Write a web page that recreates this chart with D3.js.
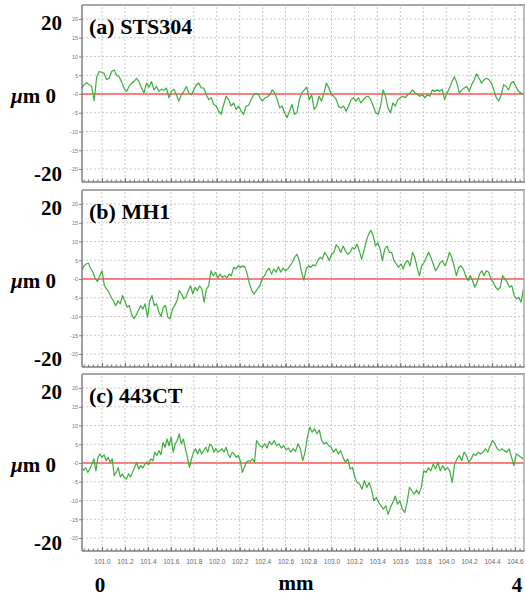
<!DOCTYPE html>
<html>
<head>
<meta charset="utf-8">
<script src="https://cdn.jsdelivr.net/npm/d3@7"></script>
<style>
body { margin: 0; background: #fff; }
svg { display: block; }
</style>
</head>
<body>
<div id="display"></div>
<script>
// profile traces, left half and right half of each panel
var stsLeft = [1.5,2.5,3,2.5,2,-1.8,4.5,6,5.8,5.5, 3.8,4.2,6,6.4,5,4.6,3.3,1.5,0.7,2,
  2.9,3.3,4.2,3.3,1.6,0.3,2.9,1.8,3.3,1.1, 2,0.7,1.3,1,1.6,-1,0.7,1.3,-0.2,-1.9,
  -0.2,0.7,2,0.3,-0.2,1.1,2.5,2.9,1.6,1.6, -0.2,-1.5,-1,-2.8,-3.2,-4.6,-5.4,-2.8,-0.6,-1.5,
  -3.2,-2.4,-4.1,-3.2,-4.6,-5.4,-3.2,-3,-1.5,-0.2, 0.1,-0.2];
var stsRight = [-1,-1.9,-1,-0.8,-0.2,1.1,0.3,-1.5,-3.7,-3.2, -5,-6.3,-4.6,-2.8,-5.4,-5,-1.5,0.3,1.1,1.8,
  -1.5,-0.2,-4.1,-3.2,-0.6,-1.9,0.3,2.9,1.6,-0.2, -0.6,-1.5,-3.4,-3.7,-3.2,-4.6,-3.2,-1.5,-1,-1.9,
  -1,-2.4,-1.5,-0.8,-0.6,-1.5,-3.2,-5,-5.4,-3.2, 1.1,-0.6,-3.7,-5,-2.4,-3.2,-1.5,-1,-0.6,-1,
  -0.2,0.3,1.1,0.3,-0.2,-0.6,-0.2,-1,-0.2,-0.6, 1.1,0.7,1.1,0.7,1.3,-1.5,0.3,1.6,3.3,4.6,
  2.9,0.3,1.1,1.6,2,0.7,2.5,3.8,5.4,4.2, 2.9,3.8,4.2,3.8,2.9,1.1,-1,-1.9,-0.2,2.5,
  2,1.1,2.9,3.3,2,0.7,0.3,-0.2];

var mh1Left = [2.2,3.5,4,4.2,2.7,1.8,0,-0.6,0.9,2.2, -1.8,-2.7,-3.5,-4.9,-5.8,-7.1,-5.8,-6.6,-4.4,-5.8,
  -7.5,-7.1,-9.3,-10.6,-9.7,-8.4,-7.1,-8,-6.6,-10.2, -5.8,-4.4,-7.1,-6.6,-8.8,-10,-7.5,-7.1,-10.2,-10.6,
  -8,-7.1,-5.8,-3.1,-4,-5.3,-4.7,-3.1,-1.8,-4, -2.2,-3.1,-1.8,-2.7,-6.2,-2.7,-1.8,2.2,0.9,1.8,
  0.3,1.3,0.4,0.9,0.3,1.3,0.9,3.1,2.7,3.5, 3.1,3.5,3.1,1.3,-1.3,-3.1,-4,-3.1,-2.2];
var mh1Right = [-1.8,0.3,0.9,2.2,2.9,1.3,2.7,1.8,3.3,1.8, 2.9,2.2,2.7,3.5,4.4,5.8,6.6,4.9,1.8,-0.3,
  2.7,3.5,3.1,3.8,3.5,4.9,5.8,5.3,7.1,6.2, 4.9,6.6,7.1,9.1,8.4,7.1,8.8,7.5,6.6,7.1,
  8.4,8,9.3,7.5,5.3,7.5,10.2,11.9,13,11.5, 8.8,9.7,8,4.9,8,8.8,7.1,7.1,4.9,4,
  3.1,4,2.7,4.4,4.9,3.5,7.1,5.8,3.1,0.9, 3.5,4.4,5.8,7.1,5.8,4,2.2,3.1,4.4,4.9,
  3.5,4.9,7.1,5.8,3.5,0.9,3.1,3.5,2.7,0.9, -0.4,0.9,-0.4,-2.2,-0.9,1.3,2.2,0.9,2.2,1.8,
  0,-0.9,-2.2,-2.9,-2.2,0.9,0,-0.9,-2.2,-1.8, -4.4,-5.3,-4.9,-6.2,-2.7];

var ctLeft = [-1.2,-1.9,-1.3,-2.5,-1.6,-0.3,1.1,-2.1,1.5,2.4, 1.5,2.2,0.6,1.5,0.2,1.1,-3.4,-2.5,-1.2,-3.8,
  -2.9,-4,-4.3,-2.9,-3.7,-2.5,-1.2,0.2,-1.6,-0.7, -1.3,-0.4,0.2,-0.4,1.1,0.6,2.9,2,3.3,2.2,
  5.5,4.2,6.4,4.6,6.9,2.9,5.1,6,7.8,5.1, 6.4,3.8,1.5,-1.2,1.1,2.9,3.8,2.4,3.8,2.4,
  3.3,4.2,2.9,5.1,4.6,2.9,3.8,2.9,3.3,3.8, 2.9,4.2,2.4,1.5,2.9,2.4,1.5,2,0.6,-2.5,
  -1.2,0.2,0.6,0.4,1.1,0.2,6,5.1];
var ctRight = [4.6,4.2,5.1,4,5.8,4.9,6,4.6,5.1,4, 4.6,3.5,4,2.9,3.8,3.1,5.1,3.8,0.6,2.9,
  6.9,9.6,8.2,9.1,7.8,8.8,6,5.1,5.5,4.6, 4.2,2.9,3.8,2.4,3.3,1.5,0.2,1.1,-1.6,-1.2,
  -3.8,-5.2,-5.6,-7,-4.7,-6.5,-5.2,-7,-10.1,-9.2, -10.5,-11.4,-12.3,-11.4,-13.7,-11.8,-10.5,-8.8,-11,-10.1,
  -12.3,-13.2,-10.5,-6.5,-7.4,-8.3,-7.2,-8.3,-6.5,-2.1, -2.5,-1.3,-2.1,-0.3,-1.6,0.2,-2.1,-0.7,-1.9,-1.2,
  -2.1,-5.2,-0.3,1.1,2,0.6,2.9,2,0.2,1.1, 2.4,2,2.9,2.4,2.9,3.8,2.9,4.6,6,5.1,
  3.8,3.3,3.8,3.3,2.9,3.8,1.5,-0.7,2.4,2, 1.5,1.1];

var panelNames = ["(a) STS304", "(b) MH1", "(c) 443CT"];
var leftHalves = [stsLeft, mh1Left, ctLeft];
var rightHalves = [stsRight, mh1Right, ctRight];

// mm spans covered by each half of the trace
var leftSpan = [100.823, 102.365];
var rightSpan = [102.377, 104.673];

var xTickValues = [101.0,101.2,101.4,101.6,101.8,102.0,102.2,102.4,102.6,102.8,103.0,
  103.2,103.4,103.6,103.8,104.0,104.2,104.4,104.6];
var yTickValues = [20, 15, 10, 5, 0, -5, -10, -15, -20];

var W = 525, H = 597;
var plotLeft = 82, plotRight = 524;
var panelTops = [5, 190, 374], panelH = 177;

var x = d3.scaleLinear().domain([101.0, 104.6]).range([102, 515]);

function spread(values, span)
{
	var step = (span[1] - span[0]) / (values.length - 1);
	return values.map(function(v, i) { return {mm: span[0] + i * step, um: v}; });
}

var svg = d3.select("#display").append("svg")
	.attr("width", W)
	.attr("height", H)
	.style("font-family", "'Liberation Serif', 'Times New Roman', serif");

panelNames.forEach(function(name, p)
{
	var top = panelTops[p], bottom = top + panelH;
	var y = d3.scaleLinear().domain([-20, 20]).range([top + 164, top + 14]);
	var g = svg.append("g");

	g.append("clipPath").attr("id", "clip" + p)
		.append("rect")
		.attr("x", plotLeft).attr("y", top)
		.attr("width", plotRight - plotLeft).attr("height", panelH);

	// dotted grid
	g.append("g").selectAll("line").data(xTickValues).enter().append("line")
		.attr("x1", function(d) { return x(d); })
		.attr("x2", function(d) { return x(d); })
		.attr("y1", top + 2).attr("y2", bottom)
		.attr("stroke", "#c8c8c8").attr("stroke-dasharray", "2,2");
	g.append("g").selectAll("line").data(yTickValues).enter().append("line")
		.attr("x1", plotLeft).attr("x2", plotRight)
		.attr("y1", function(d) { return y(d); })
		.attr("y2", function(d) { return y(d); })
		.attr("stroke", "#c8c8c8").attr("stroke-dasharray", "2,2");

	// zero reference
	g.append("line")
		.attr("x1", plotLeft).attr("x2", plotRight)
		.attr("y1", y(0)).attr("y2", y(0))
		.attr("stroke", "#ff5a5a").attr("stroke-width", 1.6);

	var pts = spread(leftHalves[p], leftSpan).concat(spread(rightHalves[p], rightSpan));
	var line = d3.line()
		.x(function(d) { return x(d.mm); })
		.y(function(d) { return y(d.um); });
	g.append("path")
		.datum(pts)
		.attr("clip-path", "url(#clip" + p + ")")
		.attr("d", line)
		.attr("fill", "none")
		.attr("stroke", "#3aae3a")
		.attr("stroke-width", 1.2)
		.attr("stroke-linejoin", "round");

	// frame top / right
	g.append("line").attr("x1", plotLeft).attr("x2", W).attr("y1", top).attr("y2", top)
		.attr("stroke", "#a8a8a8").attr("stroke-width", 2);
	g.append("line").attr("x1", plotRight).attr("x2", plotRight).attr("y1", top).attr("y2", bottom)
		.attr("stroke", "#a8a8a8").attr("stroke-width", 1.5);

	// left axis
	var yAxis = g.append("g")
		.attr("transform", "translate(" + plotLeft + ",0)")
		.call(d3.axisLeft(y).tickValues(yTickValues).tickSize(3).tickPadding(1)
			.tickFormat(function(d) { return d === 0 ? "-0" : d; }));
	yAxis.select(".domain").attr("d", "M0," + top + "V" + bottom)
		.attr("stroke", "#808080").attr("stroke-width", 1.5);
	yAxis.selectAll(".tick line").attr("stroke", "#808080");
	yAxis.selectAll("text").attr("fill", "#777").style("font-family", "Arial, sans-serif").style("font-size", "5.5px");

	// bottom axis with minor ticks
	var minor = d3.range(100.84, 104.67, 0.04);
	var xMinor = g.append("g")
		.attr("transform", "translate(0," + bottom + ")")
		.call(d3.axisBottom(x).tickValues(minor).tickSize(-2.5).tickFormat(""));
	xMinor.select(".domain").attr("d", "M" + plotLeft + ",0H" + W)
		.attr("stroke", "#808080").attr("stroke-width", 1.5);
	xMinor.selectAll(".tick line").attr("stroke", "#707070");

	var xMajor = g.append("g")
		.attr("transform", "translate(0," + bottom + ")")
		.call(d3.axisBottom(x).tickValues(xTickValues).tickSize(-4).tickPadding(8)
			.tickFormat(function(d) { return p === 2 ? d3.format(".1f")(d) : ""; }));
	xMajor.select(".domain").remove();
	xMajor.selectAll(".tick line").attr("stroke", "#707070");
	xMajor.selectAll("text").attr("fill", "#666").style("font-family", "Arial, sans-serif").style("font-size", "6.5px");

	// panel title
	g.append("text")
		.attr("x", 89).attr("y", top + 29)
		.attr("font-weight", "bold").attr("font-size", 22)
		.text(name);

	// big left labels
	g.append("text").attr("x", 62).attr("y", y(20) + 11)
		.attr("text-anchor", "end").attr("font-weight", "bold").attr("font-size", 21)
		.text("20");
	g.append("text").attr("x", 62).attr("y", y(-20) + 12)
		.attr("text-anchor", "end").attr("font-weight", "bold").attr("font-size", 21)
		.text("-20");
	var mid = g.append("text").attr("x", 56).attr("y", y(0) + 9)
		.attr("text-anchor", "end").attr("font-size", 21).attr("font-weight", "bold");
	mid.append("tspan").attr("font-style", "italic").text("\u00b5");
	mid.append("tspan").text("m 0");
});

// bottom unit labels
svg.append("text").attr("x", 100).attr("y", 592).attr("text-anchor", "middle")
	.attr("font-weight", "bold").attr("font-size", 21).text("0");
svg.append("text").attr("x", 296).attr("y", 590).attr("text-anchor", "middle")
	.attr("font-weight", "bold").attr("font-size", 21).text("mm");
svg.append("text").attr("x", 517).attr("y", 592).attr("text-anchor", "middle")
	.attr("font-weight", "bold").attr("font-size", 21).text("4");
</script>
</body>
</html>
